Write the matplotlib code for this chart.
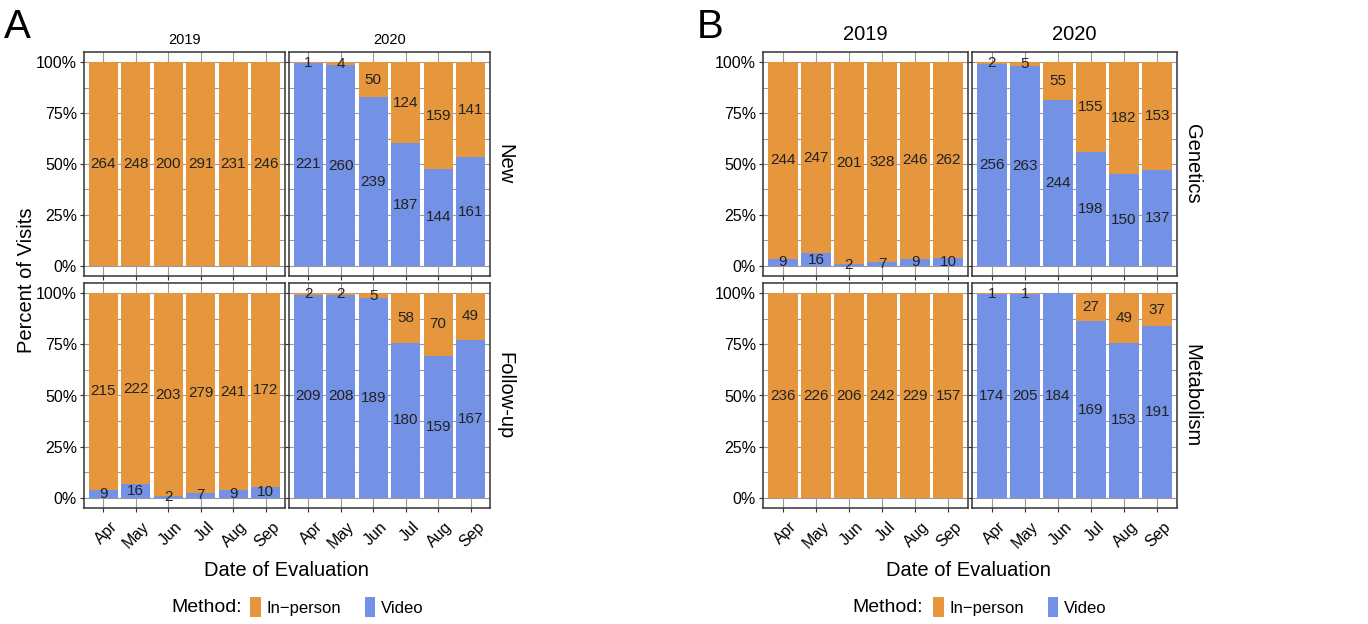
import matplotlib.pyplot as plt
import matplotlib.transforms as mtransforms
from matplotlib.patches import Patch

plt.rcParams['font.family'] = ['Liberation Sans', 'DejaVu Sans']

months = ['Apr', 'May', 'Jun', 'Jul', 'Aug', 'Sep']
years = ['2019', '2020']

# panel A: visit type (rows) x year (columns)
a_rows = ['New', 'Follow-up']
a_inperson = {
    ('New', '2019'): [264, 248, 200, 291, 231, 246],
    ('New', '2020'): [1, 4, 50, 124, 159, 141],
    ('Follow-up', '2019'): [215, 222, 203, 279, 241, 172],
    ('Follow-up', '2020'): [2, 2, 5, 58, 70, 49],
}
a_video = {
    ('New', '2019'): [0, 0, 0, 0, 0, 0],
    ('New', '2020'): [221, 260, 239, 187, 144, 161],
    ('Follow-up', '2019'): [9, 16, 2, 7, 9, 10],
    ('Follow-up', '2020'): [209, 208, 189, 180, 159, 167],
}

# panel B: division (rows) x year (columns)
b_rows = ['Genetics', 'Metabolism']
b_inperson = {
    ('Genetics', '2019'): [244, 247, 201, 328, 246, 262],
    ('Genetics', '2020'): [2, 5, 55, 155, 182, 153],
    ('Metabolism', '2019'): [236, 226, 206, 242, 229, 157],
    ('Metabolism', '2020'): [1, 1, 0, 27, 49, 37],
}
b_video = {
    ('Genetics', '2019'): [9, 16, 2, 7, 9, 10],
    ('Genetics', '2020'): [256, 263, 244, 198, 150, 137],
    ('Metabolism', '2019'): [0, 0, 0, 0, 0, 0],
    ('Metabolism', '2020'): [174, 205, 184, 169, 153, 191],
}

ORANGE = '#E6973E'
BLUE = '#7391E5'
W, H = 1368, 624

fig = plt.figure(figsize=(W / 100, H / 100), dpi=100)
shift = mtransforms.ScaledTranslation(6 / 100, 0, fig.dpi_scale_trans)


def px_axes(x0, y0, x1, y1):
    return fig.add_axes([x0 / W, 1 - y1 / H, (x1 - x0) / W, (y1 - y0) / H])


def draw_panel(ax, inp, vid, show_y, show_x):
    x = list(range(1, 7))
    tot = [a + b for a, b in zip(inp, vid)]
    vfrac = [v / t * 100 for v, t in zip(vid, tot)]
    ifrac = [i / t * 100 for i, t in zip(inp, tot)]
    ax.bar(x, vfrac, width=0.9, color=BLUE, zorder=2)
    ax.bar(x, ifrac, width=0.9, bottom=vfrac, color=ORANGE, zorder=2)
    for xi, v, i, vf, inf in zip(x, vid, inp, vfrac, ifrac):
        if v > 0:
            ax.text(xi, vf / 2, str(v), ha='center', va='center', fontsize=11, color='#222222', zorder=3)
        if i > 0:
            ax.text(xi, vf + inf / 2, str(i), ha='center', va='center', fontsize=11, color='#222222', zorder=3)
    ax.set_xlim(0.4, 6.6)
    ax.set_ylim(-5, 105)
    ax.set_yticks([0, 25, 50, 75, 100])
    ax.set_yticks([12.5, 37.5, 62.5, 87.5], minor=True)
    ax.set_xticks(x)
    ax.grid(True, which='both', color='#9a9a9a', lw=0.8, zorder=0)
    ax.tick_params(which='minor', length=0)
    ax.tick_params(which='major', length=3, width=0.8, color='#333333', labelsize=11.5, pad=2)
    ax.tick_params(axis='x', pad=5)
    for s in ax.spines.values():
        s.set_color('#333333')
        s.set_linewidth(1.1)
    if show_y:
        ax.set_yticklabels(['0%', '25%', '50%', '75%', '100%'])
    else:
        ax.set_yticklabels([])
    if show_x:
        ax.set_xticklabels(months, rotation=45, ha='right', va='top', rotation_mode='anchor')
        for lab in ax.get_xticklabels():
            lab.set_transform(lab.get_transform() + shift)
    else:
        ax.set_xticklabels([])


def facet(xcols, rows, inperson, video, strip_top_size, strip_top_y):
    rows_px = [(52, 276), (283, 508)]
    for r, row in enumerate(rows):
        for c, yr in enumerate(years):
            x0, x1 = xcols[c]
            y0, y1 = rows_px[r]
            ax = px_axes(x0, y0, x1, y1)
            draw_panel(ax, inperson[(row, yr)], video[(row, yr)], c == 0, r == 1)
            if r == 0:
                fig.text((x0 + x1) / 2 / W, 1 - strip_top_y / H, yr, ha='center', va='center',
                         fontsize=strip_top_size)
            if c == 1:
                fig.text((x1 + 15) / W, 1 - (y0 + y1) / 2 / H, row, ha='center', va='center',
                         rotation=-90, fontsize=14.5)


a_cols = [(84, 285), (289, 490)]
b_cols = [(763, 968), (972, 1177)]
facet(a_cols, a_rows, a_inperson, a_video, 10.5, 40)
facet(b_cols, b_rows, b_inperson, b_video, 14.5, 34)

fig.text(17 / W, 1 - 27 / H, 'A', fontsize=29, ha='center', va='center')
fig.text(710 / W, 1 - 27 / H, 'B', fontsize=29, ha='center', va='center')

fig.text(27 / W, 1 - 280 / H, 'Percent of Visits', rotation=90, ha='center', va='center', fontsize=14.5)
fig.text(286 / W, 1 - 571 / H, 'Date of Evaluation', ha='center', va='center', fontsize=14.5)
fig.text(968 / W, 1 - 571 / H, 'Date of Evaluation', ha='center', va='center', fontsize=14.5)

handles = [Patch(facecolor=ORANGE, label='In\u2212person'), Patch(facecolor=BLUE, label='Video')]
for mx, lx in [(171, 250), (852, 933)]:
    fig.text(mx / W, 1 - 607 / H, 'Method:', ha='left', va='center', fontsize=14)
    fig.legend(handles=handles, loc='center left', bbox_to_anchor=(lx / W, 1 - 607 / H), ncol=2,
               frameon=False, fontsize=12, handlelength=0.65, handleheight=1.4,
               handletextpad=0.35, columnspacing=1.4, borderpad=0, borderaxespad=0)

fig.savefig('out.png', dpi=100)
